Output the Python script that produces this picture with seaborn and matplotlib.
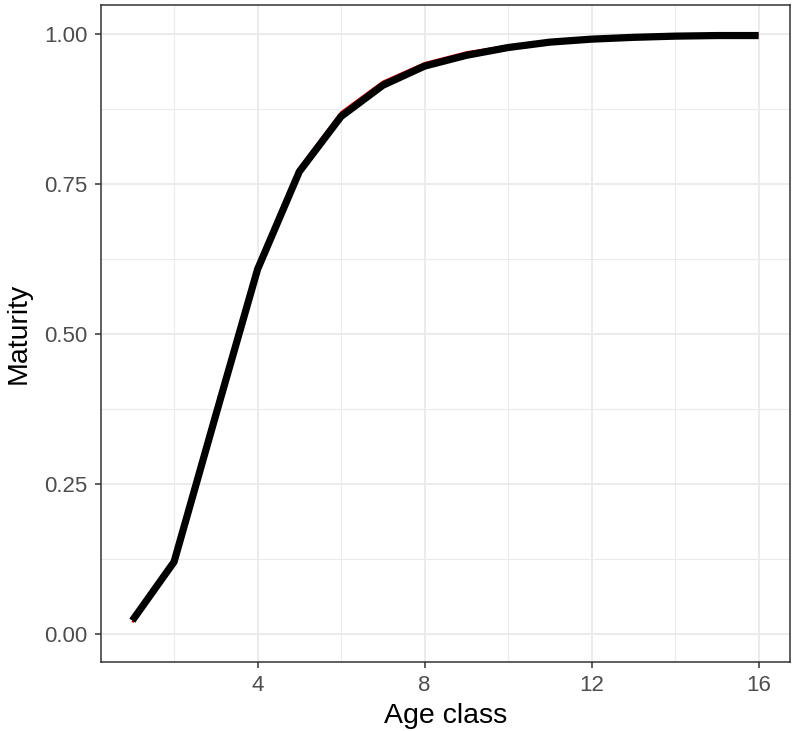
import matplotlib
matplotlib.use("Agg")
import matplotlib.pyplot as plt
from matplotlib.ticker import FixedLocator
import seaborn as sns
import pandas as pd

age = list(range(1, 17))
maturity_fit = [0.022, 0.120, 0.365, 0.608, 0.771, 0.863, 0.915, 0.947,
                0.965, 0.978, 0.987, 0.992, 0.995, 0.997, 0.998, 0.998]
maturity_obs = [0.019, 0.116, 0.356, 0.612, 0.777, 0.870, 0.921, 0.952,
                0.970, 0.981, 0.989, 0.994, 0.996, 0.998, 0.999, 0.999]
x_ticks = [4, 8, 12, 16]
y_ticks = [0.0, 0.25, 0.5, 0.75, 1.0]
y_labels = ["0.00", "0.25", "0.50", "0.75", "1.00"]

df = pd.DataFrame({"age": age, "fit": maturity_fit, "obs": maturity_obs})

sns.set_theme(style="white")
plt.rcParams["font.family"] = ["Liberation Sans", "DejaVu Sans"]

fig = plt.figure(figsize=(7.95, 7.31), dpi=100)
ax = fig.add_axes([0.127, 0.0944, 0.8667, 0.8988])

sns.lineplot(data=df, x="age", y="obs", ax=ax, color="#E00000", linewidth=1.6,
             solid_capstyle="butt", zorder=3)
sns.lineplot(data=df, x="age", y="fit", ax=ax, color="black", linewidth=5.2,
             solid_capstyle="butt", solid_joinstyle="round", zorder=4)

ax.set_xlim(0.25, 16.75)
ax.set_ylim(-0.047, 1.049)
ax.xaxis.set_major_locator(FixedLocator(x_ticks))
ax.xaxis.set_minor_locator(FixedLocator([2, 6, 10, 14]))
ax.yaxis.set_major_locator(FixedLocator(y_ticks))
ax.set_yticklabels(y_labels)
ax.yaxis.set_minor_locator(FixedLocator([0.125, 0.375, 0.625, 0.875]))

ax.grid(which="major", color="#EBEBEB", linewidth=1.4, zorder=0)
ax.grid(which="minor", color="#EBEBEB", linewidth=0.8, zorder=0)
ax.set_axisbelow(True)

for s in ax.spines.values():
    s.set_color("#333333")
    s.set_linewidth(1.1)

ax.tick_params(which="major", axis="both", length=4.5, width=1.1, color="#333333",
               labelcolor="#4D4D4D", labelsize=16, pad=5, bottom=True, left=True)
ax.tick_params(which="minor", length=0)

ax.set_xlabel("Age class", fontsize=20.5, color="black", labelpad=5)
ax.set_ylabel("Maturity", fontsize=20.5, color="black", labelpad=9)

fig.savefig("out.png", dpi=100)
